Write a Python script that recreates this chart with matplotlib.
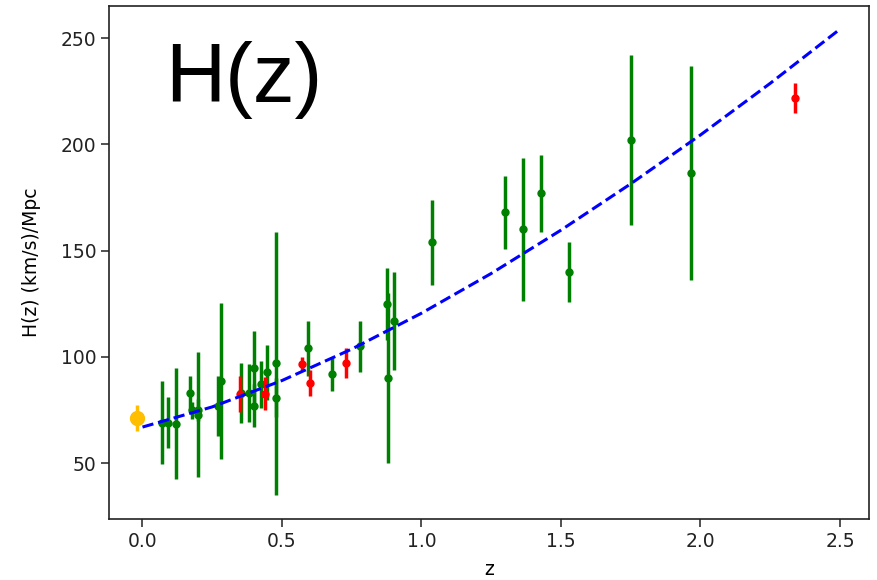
import matplotlib
matplotlib.use("Agg")
import matplotlib.pyplot as plt

# cosmic chronometer points (green)
z_cc = [0.07, 0.09, 0.12, 0.17, 0.179, 0.199, 0.2, 0.27, 0.28, 0.352, 0.38, 0.4,
        0.4004, 0.425, 0.445, 0.478, 0.48, 0.593, 0.68, 0.781, 0.875, 0.88, 0.9,
        1.037, 1.3, 1.363, 1.43, 1.53, 1.75, 1.965]
H_cc = [69, 69, 68.6, 83, 75, 75, 72.9, 77, 88.8, 83, 83, 95,
        77, 87.1, 92.8, 80.9, 97, 104, 92, 105, 125, 90, 117,
        154, 168, 160, 177, 140, 202, 186.5]
err_cc = [19.6, 12, 26.2, 8, 4, 5, 29.6, 14, 36.6, 14, 13.5, 17,
          10.2, 11.2, 12.9, 9, 62, 13, 8, 12, 17, 40, 23,
          20, 17, 33.6, 18, 14, 40, 50.4]

# BAO points (red)
z_bao = [0.35, 0.44, 0.57, 0.6, 0.73, 2.34]
H_bao = [82.7, 82.6, 96.8, 87.9, 97.3, 222]
err_bao = [8.4, 7.8, 3.4, 6.1, 7.0, 7.0]

# local H0 (yellow)
z_0 = [-0.02]
H_0 = [71.3]
err_0 = [6.2]

# model curve
z_model = [0.0, 0.25, 0.5, 0.75, 1.0, 1.25, 1.5, 1.75, 2.0, 2.25, 2.5]
H_model = [67.0, 76.5, 88.9, 103.7, 120.6, 139.3, 159.7, 181.5, 204.5, 228.8, 254.3]

plt.rcParams['font.size'] = 13.5

fig = plt.figure(figsize=(8.77, 5.8), dpi=100)
ax = fig.add_axes([0.1243, 0.1047, 0.8669, 0.885])

ax.errorbar(z_cc, H_cc, yerr=err_cc, fmt='o', color='g', ms=5, elinewidth=2.5, zorder=2)
ax.errorbar(z_bao, H_bao, yerr=err_bao, fmt='o', color='r', ms=5, elinewidth=2.5, zorder=3)
ax.errorbar(z_0, H_0, yerr=err_0, fmt='o', color='#ffbf00', ms=10, elinewidth=2.5, zorder=3)
ax.plot(z_model, H_model, '--', color='b', lw=2.2, zorder=4)

ax.set_xlim(-0.12, 2.605)
ax.set_ylim(23.6, 265.2)
ax.set_xticks([0.0, 0.5, 1.0, 1.5, 2.0, 2.5])
ax.set_yticks([50, 100, 150, 200, 250])
ax.tick_params(length=5.5, width=1.1, labelsize=13.5, colors='#222222')
for s in ax.spines.values():
    s.set_linewidth(1.2)
    s.set_color('#222222')

ax.set_xlabel("z", fontsize=13.5, labelpad=7)
ax.set_ylabel("H(z) (km/s)/Mpc", fontsize=13.5, labelpad=14)

ax.text(0.0737, 0.8135, "H(z)", transform=ax.transAxes, fontsize=60,
        family='Liberation Sans', va='baseline', ha='left')

fig.savefig("out.png", dpi=100)
